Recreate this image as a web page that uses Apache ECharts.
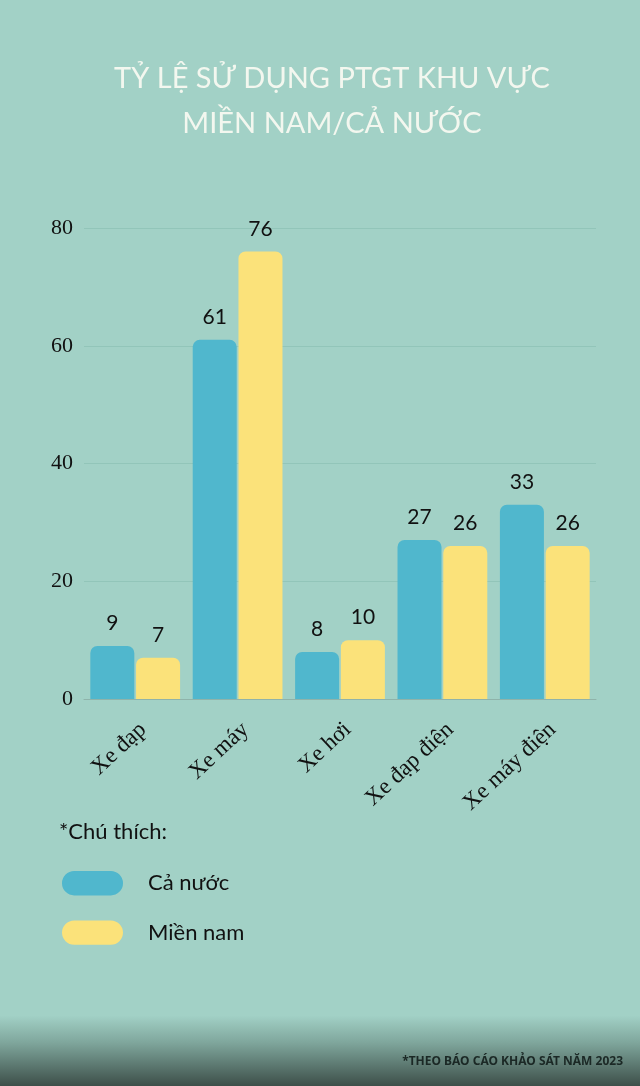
<!DOCTYPE html>
<html>
<head>
<meta charset="utf-8">
<style>html,body{margin:0;padding:0;}#c{width:640px;height:1086px;}</style>
<script src="https://cdn.jsdelivr.net/npm/echarts@6/dist/echarts.min.js"></script>
</head>
<body>
<div id="c"></div>
<script>
const categories = ['Xe đạp', 'Xe máy', 'Xe hơi', 'Xe đạp điện', 'Xe máy điện'];
const caNuoc = [9, 61, 8, 27, 33];
const mienNam = [7, 76, 10, 26, 26];
const yTicks = [0, 20, 40, 60, 80];

const chart = echarts.init(document.getElementById('c'));
const pill = 'path://M12,0 H48 A12,12 0 0 1 48,24 H12 A12,12 0 0 1 12,0 Z';
chart.setOption({
  backgroundColor: {
    type: 'linear', x: 0, y: 0, x2: 0, y2: 1,
    colorStops: [
      {offset: 0, color: '#a2d1c6'},
      {offset: 0.935, color: '#a2d1c6'},
      {offset: 0.96, color: '#7fa69c'},
      {offset: 1, color: '#3d4f49'}
    ]
  },
  title: [
    {
      text: 'TỶ LỆ SỬ DỤNG PTGT KHU VỰC\nMIỀN NAM/CẢ NƯỚC',
      left: 327, top: 51,
      textAlign: 'center',
      textStyle: {color: '#f3f7ef', fontSize: 29, fontWeight: 'normal', lineHeight: 45, fontFamily: 'Lato'}
    },
    {
      text: '*Chú thích:',
      left: 54, top: 816,
      textStyle: {color: '#111', fontSize: 22, fontWeight: 'normal', fontFamily: 'Lato'}
    },
    {
      text: '*THEO BÁO CÁO KHẢO SÁT NĂM 2023',
      right: 12, top: 1051,
      textStyle: {color: '#1b2825', fontSize: 12, fontWeight: 'bold', fontFamily: 'Noto Sans'}
    }
  ],
  legend: {
    orient: 'vertical',
    left: 57, top: 866,
    itemWidth: 61, itemHeight: 25, itemGap: 25,
    icon: pill,
    textStyle: {color: '#111', fontSize: 22, fontFamily: 'Lato', padding: [0, 0, 0, 20]},
    data: ['Cả nước', 'Miền nam']
  },
  grid: {left: 84, right: 44, top: 228, bottom: 387},
  xAxis: {
    type: 'category',
    data: categories,
    axisTick: {show: false},
    axisLine: {lineStyle: {color: '#8fb3aa', width: 1}},
    axisLabel: {rotate: 43, color: '#111', fontSize: 23, fontFamily: 'Liberation Serif', margin: 19, verticalAlign: 'top'}
  },
  yAxis: {
    type: 'value', min: yTicks[0], max: yTicks[yTicks.length - 1], interval: 20,
    axisLine: {show: false}, axisTick: {show: false},
    splitLine: {lineStyle: {color: '#92c5b9', width: 1}},
    axisLabel: {color: '#111', fontSize: 22, fontFamily: 'Liberation Serif', margin: 11}
  },
  series: [
    {
      name: 'Cả nước', type: 'bar', data: caNuoc,
      barWidth: 44, barGap: '4%',
      itemStyle: {color: '#50b7cd', borderRadius: [7, 7, 0, 0]},
      label: {show: true, position: 'top', distance: 12, color: '#111', fontSize: 21, fontFamily: 'Lato'}
    },
    {
      name: 'Miền nam', type: 'bar', data: mienNam,
      barWidth: 44,
      itemStyle: {color: '#fbe27a', borderRadius: [7, 7, 0, 0]},
      label: {show: true, position: 'top', distance: 12, color: '#111', fontSize: 21, fontFamily: 'Lato'}
    }
  ]
});
</script>
</body>
</html>
